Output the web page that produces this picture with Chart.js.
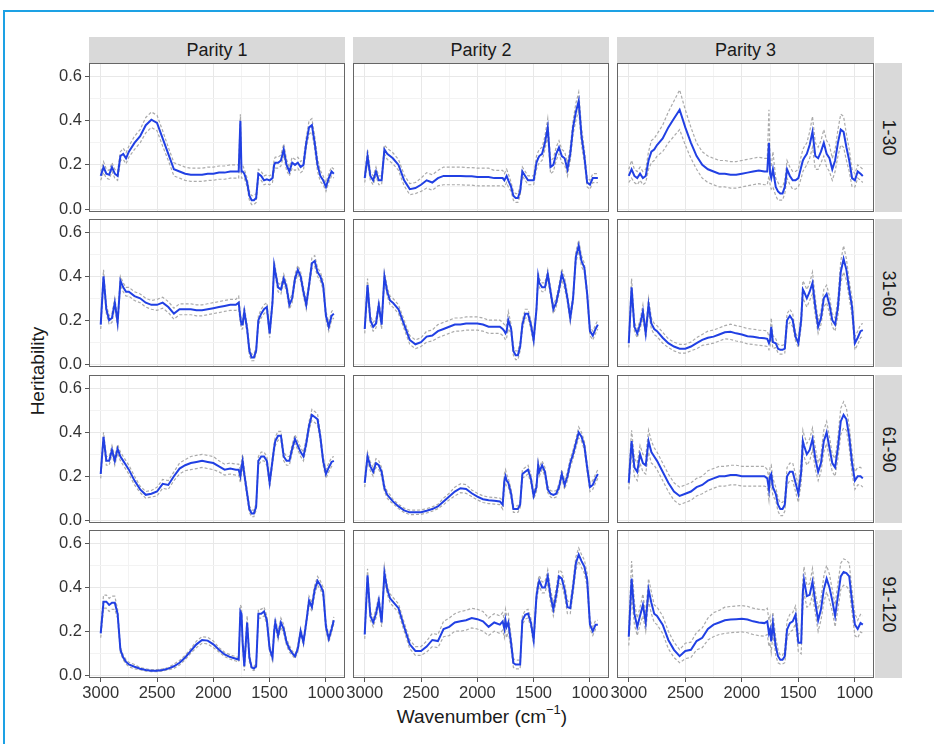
<!DOCTYPE html>
<html>
<head>
<meta charset="utf-8">
<script src="https://cdn.jsdelivr.net/npm/chart.js@4"></script>
<style>
  body { margin: 0; background: #fff; font-family: 'Liberation Sans', Arial, sans-serif; }
  #fig { position: relative; width: 934px; height: 744px; overflow: hidden; background: #fff; }
  #frame { position: absolute; left: 3px; top: 10px; width: 960px; height: 800px; border: 2px solid #1da1e4; }
  canvas { position: absolute; }
  .strip { position: absolute; background: #d9d9d9; color: #1a1a1a; font-size: 18px;
           display: flex; align-items: center; justify-content: center; }
  .strip.side span { transform: rotate(90deg); white-space: nowrap; }
  #ytitle { position: absolute; left: 38px; top: 371px; transform: translate(-50%, -50%) rotate(-90deg);
            font-size: 19px; color: #1a1a1a; white-space: nowrap; }
  #xtitle { position: absolute; left: 482px; top: 716px; transform: translate(-50%, -50%);
            font-size: 19px; color: #1a1a1a; white-space: nowrap; }
  #xtitle sup { font-size: 13px; position: relative; top: -2px; }
</style>
</head>
<body>
<div id="fig">
  <div id="frame"></div>
  <div id="ytitle">Heritability</div>
  <div id="xtitle">Wavenumber (cm<sup>−1</sup>)</div>
</div>
<script>
// facet labels
var parities = ['Parity 1', 'Parity 2', 'Parity 3'];
var dimClasses = ['1-30', '31-60', '61-90', '91-120'];

// axis ticks
var xMajor = [3000, 2500, 2000, 1500, 1000];
var xMinor = [2750, 2250, 1750, 1250];
var yMajor = [0, 0.2, 0.4, 0.6];
var yMinor = [0.1, 0.3, 0.5];

// wavenumbers (cm-1) at which the curves were read
var wavenumbers = [
  3000, 2975, 2950, 2925, 2900, 2875, 2850, 2825, 2800, 2775, 2750,
  2700, 2650, 2600, 2550, 2500, 2450, 2400, 2350, 2300, 2250, 2200, 2150, 2100, 2050, 2000, 1950, 1900, 1850, 1800, 1775,
  1760, 1750, 1740, 1725, 1700, 1680, 1660, 1640, 1620, 1600, 1575, 1550, 1525, 1500, 1475,
  1460, 1450, 1425, 1400, 1375, 1350, 1325, 1300, 1275, 1250, 1225, 1200, 1175, 1150, 1125, 1100, 1075, 1050, 1025, 1000, 975, 950, 930
];

// heritability (blue) and half width of the interval (grey dashed)
var h2_p1_1_30 = [
  .15,.19,.16,.155,.19,.16,.15,.24,.25,.23,.26,
  .30,.33,.38,.405,.39,.32,.25,.18,.17,.16,.155,.155,.155,.16,.16,.165,.165,.17,.17,.17,
  .40,.17,.17,.16,.12,.06,.04,.04,.05,.16,.15,.13,.135,.13,.14,
  .20,.21,.21,.22,.27,.20,.17,.21,.20,.21,.19,.20,.30,.37,.38,.30,.20,.15,.13,.10,.14,.17,.16];
var band_p1_1_30 = [
  .02,.025,.02,.02,.02,.02,.02,.02,.025,.025,.025,
  .03,.03,.035,.035,.035,.035,.03,.03,.03,.03,.03,.03,.03,.03,.03,.03,.03,.03,.03,.03,
  .03,.03,.03,.02,.02,.02,.02,.02,.02,.02,.02,.02,.02,.02,.02,
  .025,.025,.025,.025,.025,.025,.02,.025,.025,.025,.025,.025,.025,.03,.03,.03,.03,.025,.02,.02,.02,.02,.02];

var h2_p2_1_30 = [
  .14,.24,.15,.13,.17,.13,.13,.27,.25,.24,.23,
  .20,.13,.09,.095,.11,.13,.12,.14,.15,.15,.15,.15,.148,.148,.145,.145,.145,.14,.14,.14,
  .13,.14,.15,.13,.10,.06,.05,.05,.08,.17,.15,.13,.13,.13,.21,
  .23,.24,.25,.30,.37,.19,.20,.25,.28,.24,.23,.18,.25,.37,.44,.49,.33,.24,.12,.11,.14,.14,.14];
var band_p2_1_30 = [
  .02,.03,.02,.02,.02,.02,.02,.02,.025,.025,.025,
  .025,.025,.025,.025,.03,.035,.035,.035,.04,.04,.04,.04,.04,.04,.04,.04,.04,.035,.035,.035,
  .03,.03,.03,.03,.02,.02,.02,.02,.02,.02,.02,.02,.02,.02,.03,
  .03,.03,.03,.03,.04,.03,.03,.03,.03,.03,.03,.03,.03,.03,.04,.04,.04,.03,.02,.02,.02,.02,.02];

var h2_p3_1_30 = [
  .15,.18,.15,.14,.16,.14,.15,.22,.26,.27,.29,
  .32,.37,.41,.45,.37,.30,.24,.20,.18,.17,.16,.16,.155,.155,.16,.165,.17,.175,.17,.17,
  .30,.16,.14,.18,.10,.08,.07,.07,.10,.18,.15,.13,.13,.14,.19,
  .22,.23,.25,.29,.35,.24,.23,.26,.30,.25,.23,.18,.22,.30,.36,.35,.28,.22,.14,.13,.17,.16,.15];
var band_p3_1_30 = [
  .03,.04,.03,.03,.03,.03,.03,.04,.05,.05,.05,
  .06,.07,.08,.09,.08,.07,.06,.06,.06,.06,.06,.06,.06,.06,.06,.06,.06,.06,.06,.06,
  .15,.05,.05,.08,.04,.04,.03,.03,.03,.04,.04,.04,.04,.04,.05,
  .05,.05,.05,.06,.07,.06,.05,.05,.06,.06,.06,.05,.05,.06,.07,.07,.06,.05,.04,.03,.03,.03,.03];

var h2_p1_31_60 = [
  .18,.40,.25,.20,.21,.28,.19,.38,.35,.33,.33,
  .31,.30,.28,.27,.27,.28,.26,.23,.25,.25,.25,.245,.245,.25,.255,.26,.265,.27,.27,.28,
  .21,.18,.18,.24,.16,.06,.03,.03,.06,.20,.23,.25,.26,.14,.28,
  .45,.42,.35,.34,.39,.35,.27,.30,.39,.43,.40,.33,.27,.36,.46,.47,.42,.40,.36,.22,.17,.22,.23];
var band_p1_31_60 = [
  .02,.03,.02,.02,.02,.02,.02,.02,.02,.02,.02,
  .02,.02,.02,.02,.025,.025,.025,.025,.025,.025,.025,.025,.025,.025,.025,.025,.025,.025,.025,.03,
  .02,.02,.02,.02,.02,.02,.015,.015,.015,.02,.02,.02,.02,.02,.02,
  .02,.02,.02,.02,.02,.02,.02,.02,.02,.02,.02,.02,.02,.02,.025,.025,.02,.02,.02,.02,.02,.02,.02];

var h2_p2_31_60 = [
  .16,.36,.20,.17,.185,.27,.18,.40,.33,.29,.28,
  .25,.18,.11,.09,.10,.125,.13,.15,.16,.17,.18,.18,.185,.185,.185,.18,.17,.17,.17,.16,
  .15,.14,.15,.20,.16,.06,.04,.04,.08,.18,.23,.23,.18,.11,.25,
  .40,.37,.35,.35,.41,.33,.25,.28,.34,.41,.37,.30,.21,.30,.49,.54,.47,.44,.32,.15,.13,.16,.18];
var band_p2_31_60 = [
  .02,.03,.02,.02,.02,.02,.02,.02,.02,.02,.02,
  .02,.02,.02,.02,.02,.025,.025,.03,.03,.03,.03,.03,.03,.03,.03,.03,.03,.03,.03,.03,
  .03,.03,.03,.04,.02,.02,.02,.02,.02,.02,.02,.02,.02,.02,.02,
  .02,.02,.02,.02,.02,.02,.02,.02,.02,.025,.025,.02,.02,.02,.025,.025,.025,.02,.02,.02,.02,.02,.02];

var h2_p3_31_60 = [
  .095,.35,.17,.14,.18,.24,.14,.27,.185,.16,.15,
  .12,.095,.08,.07,.07,.08,.095,.11,.12,.125,.135,.145,.147,.14,.135,.127,.124,.12,.118,.115,
  .095,.11,.17,.10,.095,.07,.065,.065,.07,.20,.22,.20,.125,.095,.20,
  .34,.33,.30,.33,.37,.26,.17,.21,.30,.32,.27,.20,.18,.26,.42,.48,.43,.34,.26,.095,.12,.15,.155];
var band_p3_31_60 = [
  .02,.04,.02,.02,.02,.03,.02,.03,.025,.025,.025,
  .025,.02,.02,.02,.02,.02,.025,.025,.03,.03,.03,.03,.035,.035,.035,.035,.035,.035,.035,.035,
  .03,.03,.04,.03,.02,.02,.02,.02,.02,.03,.03,.03,.02,.02,.03,
  .04,.04,.04,.04,.05,.04,.03,.03,.04,.04,.04,.03,.03,.04,.05,.06,.05,.04,.04,.03,.03,.03,.03];

var h2_p1_61_90 = [
  .21,.38,.27,.27,.32,.27,.325,.29,.27,.25,.23,
  .18,.14,.115,.12,.13,.165,.16,.20,.235,.25,.26,.265,.27,.265,.26,.245,.23,.235,.23,.23,
  .20,.24,.27,.21,.12,.05,.03,.03,.06,.27,.29,.29,.27,.17,.27,
  .33,.36,.385,.385,.29,.27,.27,.325,.37,.34,.31,.29,.35,.43,.48,.47,.46,.38,.27,.21,.24,.265,.27];
var band_p1_61_90 = [
  .02,.02,.02,.02,.02,.02,.02,.02,.02,.02,.02,
  .02,.015,.015,.015,.02,.02,.02,.02,.025,.025,.03,.03,.03,.03,.03,.025,.025,.025,.025,.025,
  .03,.03,.03,.02,.02,.015,.015,.015,.015,.02,.02,.02,.02,.02,.02,
  .02,.02,.02,.02,.02,.02,.02,.02,.02,.02,.02,.02,.02,.02,.025,.025,.025,.02,.02,.02,.02,.02,.02];

var h2_p2_61_90 = [
  .17,.29,.245,.22,.26,.25,.22,.145,.115,.10,.085,
  .062,.044,.035,.035,.036,.042,.05,.062,.085,.107,.13,.145,.142,.122,.107,.095,.09,.088,.085,.07,
  .18,.20,.18,.17,.12,.05,.05,.05,.07,.21,.22,.23,.19,.11,.15,
  .25,.22,.25,.22,.14,.12,.115,.12,.15,.21,.16,.20,.26,.30,.35,.40,.38,.34,.24,.15,.16,.19,.21];
var band_p2_61_90 = [
  .02,.02,.02,.02,.02,.02,.02,.015,.015,.015,.01,
  .01,.01,.01,.01,.01,.01,.01,.01,.015,.015,.02,.02,.02,.015,.015,.015,.015,.015,.015,.02,
  .03,.03,.03,.02,.02,.015,.015,.015,.015,.02,.02,.02,.02,.015,.02,
  .02,.02,.02,.02,.015,.015,.015,.015,.015,.02,.02,.02,.02,.02,.02,.025,.02,.02,.02,.02,.02,.02,.02];

var h2_p3_61_90 = [
  .17,.36,.24,.22,.30,.26,.25,.36,.31,.29,.27,
  .22,.17,.13,.11,.12,.13,.15,.16,.18,.19,.20,.20,.205,.205,.20,.20,.20,.20,.20,.19,
  .14,.20,.21,.15,.12,.07,.05,.05,.07,.20,.22,.22,.17,.12,.22,
  .36,.34,.30,.32,.37,.28,.22,.26,.36,.40,.33,.26,.24,.33,.45,.48,.46,.38,.26,.18,.20,.20,.19];
var band_p3_61_90 = [
  .03,.05,.04,.04,.04,.04,.04,.05,.05,.04,.04,
  .04,.04,.04,.04,.04,.04,.04,.04,.045,.045,.045,.045,.045,.045,.045,.045,.045,.045,.045,.04,
  .05,.04,.04,.04,.03,.03,.03,.03,.03,.04,.04,.04,.04,.04,.05,
  .05,.05,.05,.05,.05,.05,.04,.04,.05,.05,.05,.04,.04,.05,.06,.06,.05,.05,.05,.04,.04,.04,.04];

var h2_p1_91_120 = [
  .19,.335,.335,.32,.33,.33,.28,.115,.08,.06,.048,
  .038,.029,.023,.02,.02,.023,.029,.04,.056,.08,.11,.14,.16,.157,.14,.115,.094,.082,.074,.07,
  .29,.28,.15,.04,.24,.08,.035,.03,.04,.28,.28,.29,.25,.12,.08,
  .20,.24,.18,.24,.21,.15,.12,.10,.085,.12,.20,.15,.24,.34,.31,.39,.43,.41,.38,.22,.165,.21,.25];
var band_p1_91_120 = [
  .02,.03,.03,.03,.03,.03,.02,.015,.01,.01,.01,
  .01,.005,.005,.005,.005,.005,.005,.01,.01,.01,.01,.015,.015,.015,.015,.01,.01,.01,.01,.01,
  .03,.03,.02,.02,.03,.02,.01,.01,.01,.02,.02,.02,.02,.015,.015,
  .02,.02,.02,.02,.02,.015,.015,.01,.01,.015,.015,.015,.015,.02,.02,.02,.02,.02,.02,.02,.015,.015,.015];

var h2_p2_91_120 = [
  .185,.455,.27,.24,.28,.34,.24,.465,.39,.35,.335,
  .305,.22,.14,.11,.11,.13,.16,.155,.21,.22,.24,.245,.25,.26,.255,.245,.22,.24,.23,.245,
  .21,.25,.22,.24,.145,.055,.048,.048,.048,.25,.275,.28,.24,.16,.36,
  .41,.43,.40,.40,.45,.36,.30,.365,.45,.44,.39,.31,.305,.40,.51,.55,.52,.495,.435,.23,.20,.23,.23];
var band_p2_91_120 = [
  .02,.03,.02,.02,.02,.02,.02,.03,.02,.02,.02,
  .02,.02,.02,.02,.02,.025,.03,.03,.035,.04,.04,.045,.045,.045,.045,.045,.04,.04,.04,.04,
  .04,.05,.05,.04,.03,.02,.02,.02,.02,.02,.02,.02,.02,.02,.025,
  .025,.025,.025,.025,.03,.03,.03,.03,.03,.03,.03,.03,.025,.03,.03,.03,.03,.03,.03,.02,.02,.02,.02];

var h2_p3_91_120 = [
  .175,.44,.28,.22,.27,.32,.24,.39,.33,.28,.27,
  .23,.16,.115,.086,.11,.115,.155,.17,.21,.23,.24,.25,.253,.255,.257,.253,.245,.24,.237,.245,
  .19,.207,.154,.237,.13,.086,.07,.07,.086,.207,.237,.245,.275,.147,.147,
  .38,.434,.36,.366,.426,.33,.25,.30,.39,.44,.40,.34,.27,.36,.45,.47,.465,.45,.335,.23,.21,.237,.23];
var band_p3_91_120 = [
  .04,.08,.05,.04,.04,.05,.04,.05,.05,.04,.04,
  .04,.04,.035,.03,.035,.035,.04,.045,.05,.055,.055,.06,.06,.06,.06,.06,.06,.06,.06,.06,
  .06,.06,.05,.05,.04,.03,.02,.02,.03,.04,.04,.04,.04,.04,.05,
  .06,.06,.05,.05,.06,.05,.05,.05,.06,.06,.06,.05,.05,.06,.06,.06,.06,.06,.05,.05,.04,.04,.04];

// rows = days in milk classes, columns = parities
var panels = [
  [[h2_p1_1_30, band_p1_1_30], [h2_p2_1_30, band_p2_1_30], [h2_p3_1_30, band_p3_1_30]],
  [[h2_p1_31_60, band_p1_31_60], [h2_p2_31_60, band_p2_31_60], [h2_p3_31_60, band_p3_31_60]],
  [[h2_p1_61_90, band_p1_61_90], [h2_p2_61_90, band_p2_61_90], [h2_p3_61_90, band_p3_61_90]],
  [[h2_p1_91_120, band_p1_91_120], [h2_p2_91_120, band_p2_91_120], [h2_p3_91_120, band_p3_91_120]]
];

// panel geometry in page pixels
var colLeft = [89, 353, 617], colRight = [345, 609, 874];
var rowTop = [63, 219, 375, 530], rowBottom = [212, 367, 523, 678];

Chart.defaults.font.family = "'Liberation Sans', Arial, sans-serif";

var fig = document.getElementById('fig');

// strips
parities.forEach(function(p, c) {
  var d = document.createElement('div');
  d.className = 'strip';
  d.style.left = colLeft[c] + 'px';
  d.style.width = (colRight[c] - colLeft[c]) + 'px';
  d.style.top = '37px';
  d.style.height = '26px';
  d.textContent = p;
  fig.appendChild(d);
});
dimClasses.forEach(function(lab, r) {
  var d = document.createElement('div');
  d.className = 'strip side';
  d.style.left = '875px';
  d.style.width = '27px';
  d.style.top = rowTop[r] + 'px';
  d.style.height = (rowBottom[r] - rowTop[r]) + 'px';
  d.innerHTML = '<span>' + lab + '</span>';
  fig.appendChild(d);
});

var panelBorder = {
  id: 'panelBorder',
  afterDraw: function(chart) {
    var a = chart.chartArea, ctx = chart.ctx;
    ctx.save();
    ctx.strokeStyle = '#666';
    ctx.lineWidth = 1;
    ctx.strokeRect(a.left + 0.5, a.top + 0.5, a.right - a.left - 1, a.bottom - a.top - 1);
    ctx.restore();
  }
};

function tickList(major, minor) {
  return major.concat(minor).sort(function(a, b) { return a - b; })
    .map(function(v) { return { value: v }; });
}

function makePanel(r, c) {
  var mean = panels[r][c][0], band = panels[r][c][1];
  var L = 50, T = 2, R = 2, B = (r === 3) ? 34 : 7;
  var w = colRight[c] - colLeft[c] + L + R;
  var h = rowBottom[r] - rowTop[r] + T + B;
  var cv = document.createElement('canvas');
  cv.width = w; cv.height = h;
  cv.style.left = (colLeft[c] - L) + 'px';
  cv.style.top = (rowTop[r] - T) + 'px';
  fig.appendChild(cv);

  var line = [], upper = [], lower = [];
  for (var i = 0; i < wavenumbers.length; i++) {
    line.push({ x: wavenumbers[i], y: mean[i] });
    upper.push({ x: wavenumbers[i], y: mean[i] + band[i] });
    lower.push({ x: wavenumbers[i], y: mean[i] - band[i] });
  }

  var showX = r === 3, showY = c === 0;

  new Chart(cv, {
    type: 'line',
    data: {
      datasets: [
        { data: line, borderColor: '#2140e3', borderWidth: 2 },
        { data: upper, borderColor: '#ababab', borderWidth: 1.2, borderDash: [3, 2] },
        { data: lower, borderColor: '#ababab', borderWidth: 1.2, borderDash: [3, 2] }
      ]
    },
    options: {
      responsive: false,
      animation: false,
      events: [],
      layout: { padding: { top: T, right: R, left: 0, bottom: 0 } },
      plugins: { legend: { display: false }, tooltip: { enabled: false } },
      elements: { point: { radius: 0 }, line: { tension: 0 } },
      scales: {
        x: {
          type: 'linear', reverse: true, min: 831, max: 3104,
          afterBuildTicks: function(s) { s.ticks = tickList(xMajor, xMinor); },
          afterFit: function(s) { s.height = B; s.paddingLeft = 0; s.paddingRight = 0; },
          border: { display: false },
          grid: {
            drawTicks: showX, tickLength: 4,
            color: function(ctx) { return xMajor.indexOf(ctx.tick.value) >= 0 ? '#e8e8e8' : '#f3f3f3'; },
            tickColor: function(ctx) { return xMajor.indexOf(ctx.tick.value) >= 0 ? '#555' : 'rgba(0,0,0,0)'; }
          },
          ticks: {
            display: showX, autoSkip: false, maxRotation: 0, padding: 2,
            color: '#333', font: { size: 16.5 },
            callback: function(v) { return xMajor.indexOf(v) >= 0 ? String(v) : ''; }
          }
        },
        y: {
          min: -0.0136, max: 0.662,
          afterBuildTicks: function(s) { s.ticks = tickList(yMajor, yMinor); },
          afterFit: function(s) { s.width = L; s.paddingTop = 0; s.paddingBottom = 0; },
          border: { display: false },
          grid: {
            drawTicks: showY, tickLength: 4,
            color: function(ctx) { return yMajor.indexOf(ctx.tick.value) >= 0 ? '#e8e8e8' : '#f3f3f3'; },
            tickColor: function(ctx) { return yMajor.indexOf(ctx.tick.value) >= 0 ? '#555' : 'rgba(0,0,0,0)'; }
          },
          ticks: {
            display: showY, autoSkip: false, padding: 3,
            color: '#333', font: { size: 16.5 },
            callback: function(v) { return yMajor.indexOf(v) >= 0 ? v.toFixed(1) : ''; }
          }
        }
      }
    },
    plugins: [panelBorder]
  });
}

for (var r = 0; r < 4; r++) {
  for (var c = 0; c < 3; c++) makePanel(r, c);
}
</script>
</body>
</html>
